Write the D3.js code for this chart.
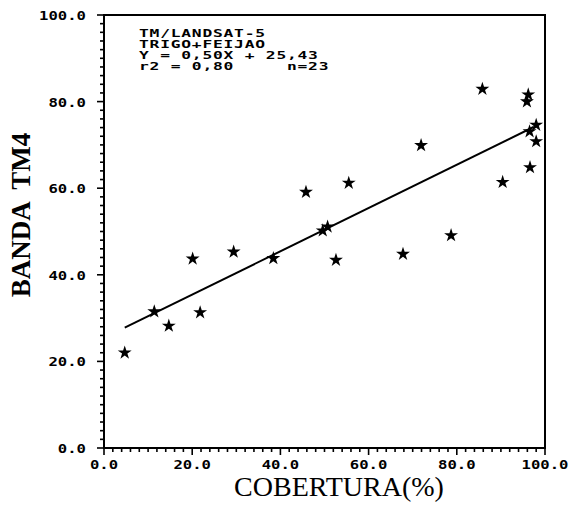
<!DOCTYPE html>
<html>
<head>
<meta charset="utf-8">
<script src="https://cdn.jsdelivr.net/npm/d3@7"></script>
<style>
  body { margin: 0; background: #fff; }
  svg text { fill: #000; }
  .tick-lbl { font-family: "DejaVu Sans Mono", monospace; font-weight: bold; font-size: 13px; }
  .note { font-family: "DejaVu Sans Mono", monospace; font-weight: bold; font-size: 10.5px; letter-spacing: 0.5px; white-space: pre; }
  .x-title { font-family: "Liberation Serif", serif; font-size: 28px; }
  .y-title { font-family: "Liberation Serif", serif; font-weight: bold; font-size: 27px; white-space: pre; }
</style>
</head>
<body>
<svg id="chart" width="577" height="505"></svg>
<script>
// valores (cobertura %, banda TM4)
const cobertura = [4.7, 11.4, 14.7, 20.1, 21.8, 29.4, 38.4, 45.8, 49.6, 50.7, 52.6, 55.5,
  67.8, 71.9, 78.7, 85.8, 90.4, 95.9, 96.2, 96.5, 96.6, 98.0, 98.0];
const bandaTM4 = [22.0, 31.5, 28.2, 43.7, 31.3, 45.3, 43.8, 59.1, 50.2, 51.1, 43.4, 61.2,
  44.8, 69.9, 49.1, 82.9, 61.4, 80.0, 81.6, 73.1, 64.8, 74.6, 70.8];
const majorTicks = [0, 20, 40, 60, 80, 100];
const reta = { a: 0.50, b: 25.43, xmin: 4.7, xmax: 97.4 };
const notas = ["TM/LANDSAT-5", "TRIGO+FEIJAO", "Y = 0,50X + 25,43", "r2 = 0,80     n=23"];

const svg = d3.select("#chart");
const x = d3.scaleLinear().domain([0, 100]).range([104, 545]);
const y = d3.scaleLinear().domain([0, 100]).range([448, 15]);

// moldura
svg.append("rect")
  .attr("x", x(0)).attr("y", y(100))
  .attr("width", x(100) - x(0)).attr("height", y(0) - y(100))
  .attr("fill", "none").attr("stroke", "#000").attr("stroke-width", 2);

// ticks menores (cada 2)
const minor = d3.range(0, 101, 2);
svg.append("g").selectAll("line").data(minor).join("line")
  .attr("x1", d => x(0) - (d % 20 == 0 ? 7 : 4)).attr("x2", x(0))
  .attr("y1", d => y(d)).attr("y2", d => y(d))
  .attr("stroke", "#000").attr("stroke-width", 1.6);
svg.append("g").selectAll("line").data(minor).join("line")
  .attr("x1", d => x(d)).attr("x2", d => x(d))
  .attr("y1", y(0)).attr("y2", d => y(0) + (d % 20 == 0 ? 7 : 4))
  .attr("stroke", "#000").attr("stroke-width", 1.6);

// rotulos dos eixos (fonte esticada na horizontal)
svg.append("g").selectAll("text").data(majorTicks).join("text")
  .attr("class", "tick-lbl")
  .attr("transform", d => "translate(86," + (y(d) + 5) + ") scale(1.2,1)")
  .attr("text-anchor", "end")
  .text(d => d.toFixed(1));
svg.append("g").selectAll("text").data(majorTicks).join("text")
  .attr("class", "tick-lbl")
  .attr("transform", d => "translate(" + x(d) + ",469) scale(1.2,1)")
  .attr("text-anchor", "middle")
  .text(d => d.toFixed(1));

svg.append("text").attr("class", "x-title")
  .attr("x", 339).attr("y", 496).attr("text-anchor", "middle")
  .text("COBERTURA(%)");
svg.append("text").attr("class", "y-title")
  .attr("transform", "translate(30,215) rotate(-90)")
  .attr("text-anchor", "middle")
  .text("BANDA  TM4");

// reta de regressao
svg.append("line")
  .attr("x1", x(reta.xmin)).attr("y1", y(reta.a * reta.xmin + reta.b))
  .attr("x2", x(reta.xmax)).attr("y2", y(reta.a * reta.xmax + reta.b))
  .attr("stroke", "#000").attr("stroke-width", 2);

// pontos
const star = d3.symbol().type(d3.symbolStar).size(60);
svg.append("g").selectAll("path").data(cobertura).join("path")
  .attr("d", star)
  .attr("transform", (d, i) => "translate(" + x(d) + "," + y(bandaTM4[i]) + ")")
  .attr("fill", "#000");

// anotacoes
svg.append("g").selectAll("text").data(notas).join("text")
  .attr("class", "note")
  .attr("transform", (d, i) => "translate(139," + (37 + i * 11) + ") scale(1.55,1)")
  .text(d => d);
</script>
</body>
</html>
